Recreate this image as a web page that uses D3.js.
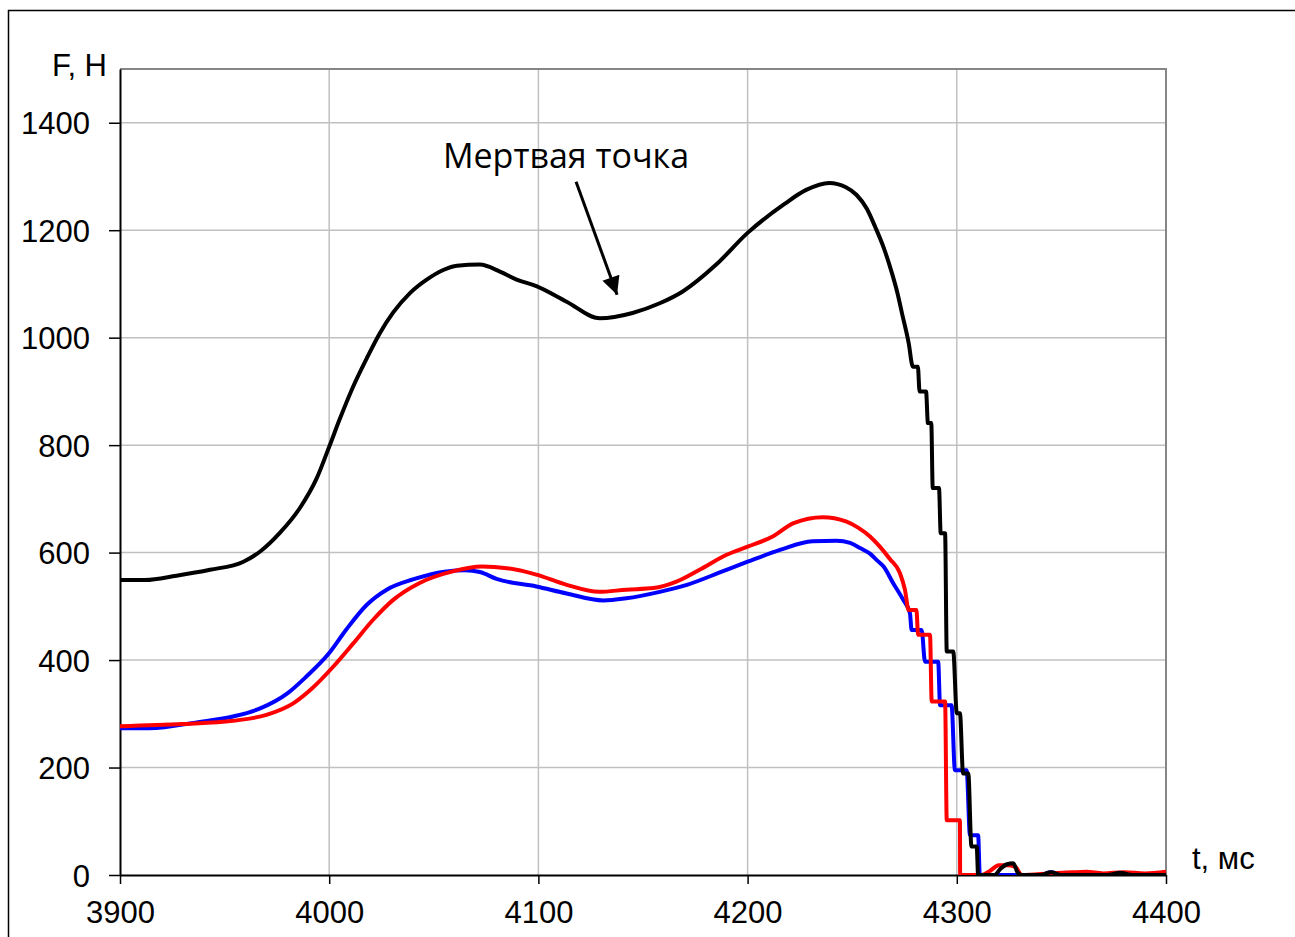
<!DOCTYPE html>
<html>
<head>
<meta charset="utf-8">
<script src="https://cdn.jsdelivr.net/npm/d3@7"></script>
<style>
  html, body { margin: 0; padding: 0; background: #fff; }
  svg { display: block; }
</style>
</head>
<body>
<svg id="chart" width="1295" height="937"></svg>
<script>
// Force on the tool over time (ms); three channels.
const tBlack = [3900, 3912, 3927, 3943, 3959, 3967, 3976.5, 3986, 3994, 4000, 4005, 4011, 4018, 4024, 4030.6, 4038.6, 4046.6, 4054.5, 4061, 4072, 4081.6, 4089.6, 4099, 4113.5, 4129.4, 4145, 4158, 4169, 4185, 4200, 4217, 4228, 4239, 4247, 4252, 4257, 4261, 4265, 4269, 4271.5, 4274, 4277, 4279, 4281.4, 4282.2, 4285.3, 4286.2, 4287.8, 4288.5, 4291.5, 4292.3, 4294.4, 4295.2, 4298.3, 4300, 4301.5, 4303, 4305.5, 4307, 4309.5, 4310.2, 4318, 4321, 4324, 4327, 4329, 4331, 4340, 4345, 4350, 4372, 4378, 4384, 4400];
const fBlack = [549, 549, 557, 568, 583, 602, 637, 683, 738, 797, 848, 905, 962, 1007, 1047, 1083, 1108, 1126, 1134, 1136, 1123, 1108, 1096, 1067, 1036, 1046, 1064, 1086, 1136, 1195, 1247, 1275, 1288, 1280, 1266, 1240, 1206, 1168, 1120, 1085, 1042, 990, 946, 946, 900, 900, 841, 841, 720, 720, 636, 636, 416, 416, 301, 301, 189, 189, 53, 53, 0, 0, 12, 20, 22, 5, 0, 0, 5, 0, 0, 4, 0, 0];

const tBlue = [3900, 3914, 3938, 3954, 3967, 3980, 3989, 4000, 4008, 4018, 4027.5, 4040, 4056, 4065, 4072, 4080, 4099, 4113.5, 4131, 4142, 4158, 4171, 4188, 4200, 4215.5, 4231, 4242.6, 4249, 4254, 4258.5, 4262, 4265, 4269.6, 4274.4, 4277.6, 4278.4, 4283.2, 4284.8, 4291.1, 4292, 4297.5, 4299.1, 4304.7, 4306.3, 4310.2, 4311, 4340, 4345, 4350, 4400];
const fBlue = [273, 273, 285, 295, 310, 338, 369, 413, 456, 503, 531, 550, 565, 567, 564, 551, 537, 524, 511, 515, 527, 540, 565, 583, 605, 621, 622, 618, 608, 598, 585, 574, 543, 512, 487, 456, 456, 397, 397, 316, 316, 195, 195, 74, 74, 0, 0, 5, 0, 0];

const tRed = [3900, 3930, 3954, 3970, 3983, 3992, 4002, 4011.5, 4021, 4030.6, 4043, 4059, 4073, 4085, 4099, 4113.5, 4129, 4142, 4155, 4166, 4177, 4190, 4200, 4212, 4222, 4236, 4247, 4253, 4258.5, 4263, 4268, 4272.8, 4275.2, 4277, 4280.7, 4281.5, 4287.2, 4288, 4294.4, 4295.2, 4301.5, 4301.6, 4312, 4316, 4320, 4324, 4328, 4331, 4345, 4355, 4362, 4370, 4380, 4390, 4400];
const fRed = [277, 281, 287, 298, 320, 348, 388, 431, 475, 512, 543, 565, 574, 571, 559, 540, 527, 531, 534, 546, 568, 596, 611, 630, 655, 666, 658, 646, 630, 612, 588, 562, 531, 493, 493, 447, 447, 323, 323, 102, 102, 0, 0, 8, 18, 18, 15, 0, 3, 5, 6, 3, 5, 3, 6];

const xTicks = [3900, 4000, 4100, 4200, 4300, 4400];
const yTicks = [0, 200, 400, 600, 800, 1000, 1200, 1400];

const annotationText = "Мертвая точка";
const annotationFrom = { t: 4118, f: 1290 };
const annotationTo = { t: 4137.6, f: 1080 };

const svg = d3.select("#chart");
const plotL = 120, plotR = 1166, plotT = 69, plotB = 875;
const axisFont = "'Liberation Sans', Arial, sans-serif";

const x = d3.scaleLinear().domain([3900, 4400]).range([plotL, plotR]);
const y = d3.scaleLinear().domain([0, 1500]).range([plotB, plotT]);

// outer frame
svg.append("rect")
  .attr("x", 8.5).attr("y", 10.5)
  .attr("width", 1400).attr("height", 1000)
  .attr("fill", "none").attr("stroke", "#000").attr("stroke-width", 1.5);

// gridlines
const grid = svg.append("g");
grid.selectAll("line.h").data(yTicks.filter(d => d > 0)).join("line")
  .attr("class", "h")
  .attr("x1", plotL).attr("x2", plotR)
  .attr("y1", d => y(d)).attr("y2", d => y(d))
  .attr("stroke", "#c0c0c0").attr("stroke-width", 1.5);
grid.selectAll("line.v").data(xTicks.filter(d => d > 3900 && d < 4400)).join("line")
  .attr("class", "v")
  .attr("y1", plotT).attr("y2", plotB)
  .attr("x1", d => x(d)).attr("x2", d => x(d))
  .attr("stroke", "#c0c0c0").attr("stroke-width", 1.5);

// top and right frame of the plot area
svg.append("path")
  .attr("d", `M${plotL},${plotT}H${plotR}V${plotB}`)
  .attr("fill", "none").attr("stroke", "#868686").attr("stroke-width", 2);

// axes
const yAxis = d3.axisLeft(y).tickValues(yTicks).tickSize(11).tickSizeOuter(0).tickPadding(19).tickFormat(d3.format("d"));
const xAxis = d3.axisBottom(x).tickValues(xTicks).tickSize(9).tickSizeOuter(0).tickPadding(17).tickFormat(d3.format("d"));

const gy = svg.append("g").attr("transform", `translate(${plotL},0)`).call(yAxis);
const gx = svg.append("g").attr("transform", `translate(0,${plotB})`).call(xAxis);
[gx, gy].forEach(g => {
  g.select(".domain").attr("stroke", "#000").attr("stroke-width", 2);
  g.selectAll(".tick line").attr("stroke", "#000").attr("stroke-width", 1.5);
  g.selectAll(".tick text")
    .attr("font-family", axisFont)
    .attr("font-size", 31).attr("fill", "#000");
});
gy.selectAll(".tick text").attr("dy", "0.36em");

// axis titles
svg.append("text").attr("x", 107).attr("y", 76).attr("text-anchor", "end")
  .attr("font-family", axisFont).attr("font-size", 31)
  .text("F, H");
svg.append("text").attr("x", 1192).attr("y", 869)
  .attr("font-family", axisFont).attr("font-size", 31)
  .text("t, мс");

// curves
const line = d3.line().x(d => x(d[0])).y(d => y(d[1])).curve(d3.curveMonotoneX);
const series = [
  { t: tBlue, f: fBlue, color: "#0000ff" },
  { t: tRed, f: fRed, color: "#ff0000" },
  { t: tBlack, f: fBlack, color: "#000000" }
];
const defs = svg.append("defs");
defs.append("clipPath").attr("id", "plotClip")
  .append("rect").attr("x", plotL).attr("y", plotT - 2).attr("width", plotR - plotL + 2).attr("height", plotB - plotT + 2);
const plot = svg.append("g").attr("clip-path", "url(#plotClip)");
series.forEach(s => {
  plot.append("path")
    .datum(s.t.map((t, i) => [t, s.f[i]]))
    .attr("d", line)
    .attr("fill", "none")
    .attr("stroke", s.color)
    .attr("stroke-width", 4)
    .attr("stroke-linejoin", "round");
});

// annotation
svg.append("text").attr("x", 566).attr("y", 168).attr("text-anchor", "middle")
  .attr("font-family", "'Open Sans', sans-serif").attr("font-size", 34)
  .text(annotationText);

defs.append("marker")
  .attr("id", "arrowHead").attr("viewBox", "0 0 10 10")
  .attr("refX", 10).attr("refY", 5)
  .attr("markerWidth", 10).attr("markerHeight", 6).attr("markerUnits", "strokeWidth")
  .attr("orient", "auto")
  .append("path").attr("d", "M0,0L10,5L0,10Z").attr("fill", "#000");

svg.append("line")
  .attr("x1", x(annotationFrom.t)).attr("y1", y(annotationFrom.f))
  .attr("x2", x(annotationTo.t)).attr("y2", y(annotationTo.f))
  .attr("stroke", "#000").attr("stroke-width", 3)
  .attr("marker-end", "url(#arrowHead)");
</script>
</body>
</html>
